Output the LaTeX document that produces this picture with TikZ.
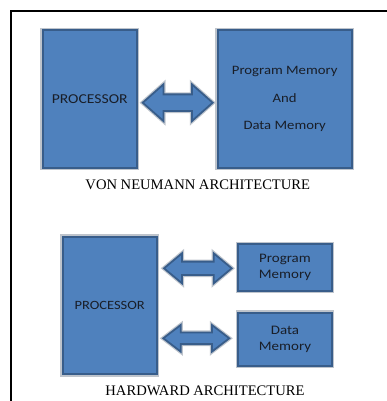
\documentclass[tikz,border=0pt]{standalone}
\usepackage{fontspec}
\setmainfont{Liberation Serif}
\newfontfamily\boxfont[FakeStretch=1.15]{Carlito}
\definecolor{boxblue}{RGB}{79,129,189}
\definecolor{boxedge}{RGB}{56,93,138}
\definecolor{halo}{RGB}{190,196,204}
\definecolor{boxtext}{RGB}{25,30,40}
\tikzset{
  blk/.style={rectangle, fill=boxblue, draw=boxedge, line width=1.8pt,
    preaction={draw=halo, line width=4.6pt}, inner sep=0pt,
    text=boxtext, align=center},
  blkarrow/.style={fill=boxblue, draw=boxedge, line width=1.8pt, line join=miter,
    preaction={draw=halo, line width=4.2pt}},
  caption/.style={font=\fontsize{14.6}{16}\selectfont, inner sep=0pt}
}
% #1 left tip x, #2 right tip x, #3 centre y, #4 head half, #5 shaft half, #6 head length
\newcommand{\dblarrow}[6]{%
  \draw[blkarrow] (#1,#3) -- ({#1+#6},{#3-#4}) -- ({#1+#6},{#3-#5}) -- ({#2-#6},{#3-#5})
    -- ({#2-#6},{#3-#4}) -- (#2,#3) -- ({#2-#6},{#3+#4}) -- ({#2-#6},{#3+#5})
    -- ({#1+#6},{#3+#5}) -- ({#1+#6},{#3+#4}) -- cycle;}
\begin{document}
\begin{tikzpicture}[x=1pt,y=-1pt]
\useasboundingbox (0,0) rectangle (386,401);
% frame
\coordinate (ftl) at (11,11);
\coordinate (ftr) at (386,11);
\coordinate (fbl) at (11,401);
\draw[line width=1.4pt, line cap=rect] (ftr) -- (ftl) -- (fbl);

% ---- Von Neumann ----
\node[blk, minimum width=94pt, minimum height=138pt,
      font=\boxfont\fontsize{13.6}{16}\selectfont] (proc1) at (89.7,99) {PROCESSOR};
\node[blk, minimum width=134pt, minimum height=138pt,
      font=\boxfont\fontsize{12.8}{27.5}\selectfont] (mem1) at (284.7,99)
      {Program Memory\\And\\Data Memory};
\dblarrow{142.7}{212.7}{102.7}{18.3}{8.3}{20.7}
\node[caption] (cap1) at (197.8,185) {VON NEUMANN ARCHITECTURE};

% ---- Harvard ----
\node[blk, minimum width=94pt, minimum height=137.6pt,
      font=\boxfont\fontsize{12.6}{16}\selectfont] (proc2) at (109.7,305.5) {PROCESSOR};
\node[blk, minimum width=93.4pt, minimum height=46.7pt,
      font=\boxfont\fontsize{13}{15.7}\selectfont] (pmem) at (285,267.7)
      {Program\\Memory};
\node[blk, minimum width=93.4pt, minimum height=53.3pt,
      font=\boxfont\fontsize{13}{15.7}\selectfont] (dmem) at (285,339.3)
      {Data\\Memory};
\dblarrow{164}{231.7}{268.3}{15}{6.7}{18}
\dblarrow{163.3}{229.3}{338.3}{13.3}{5.8}{17.4}
\node[caption] (cap2) at (205,390.7) {HARDWARD ARCHITECTURE};
\end{tikzpicture}
\end{document}
